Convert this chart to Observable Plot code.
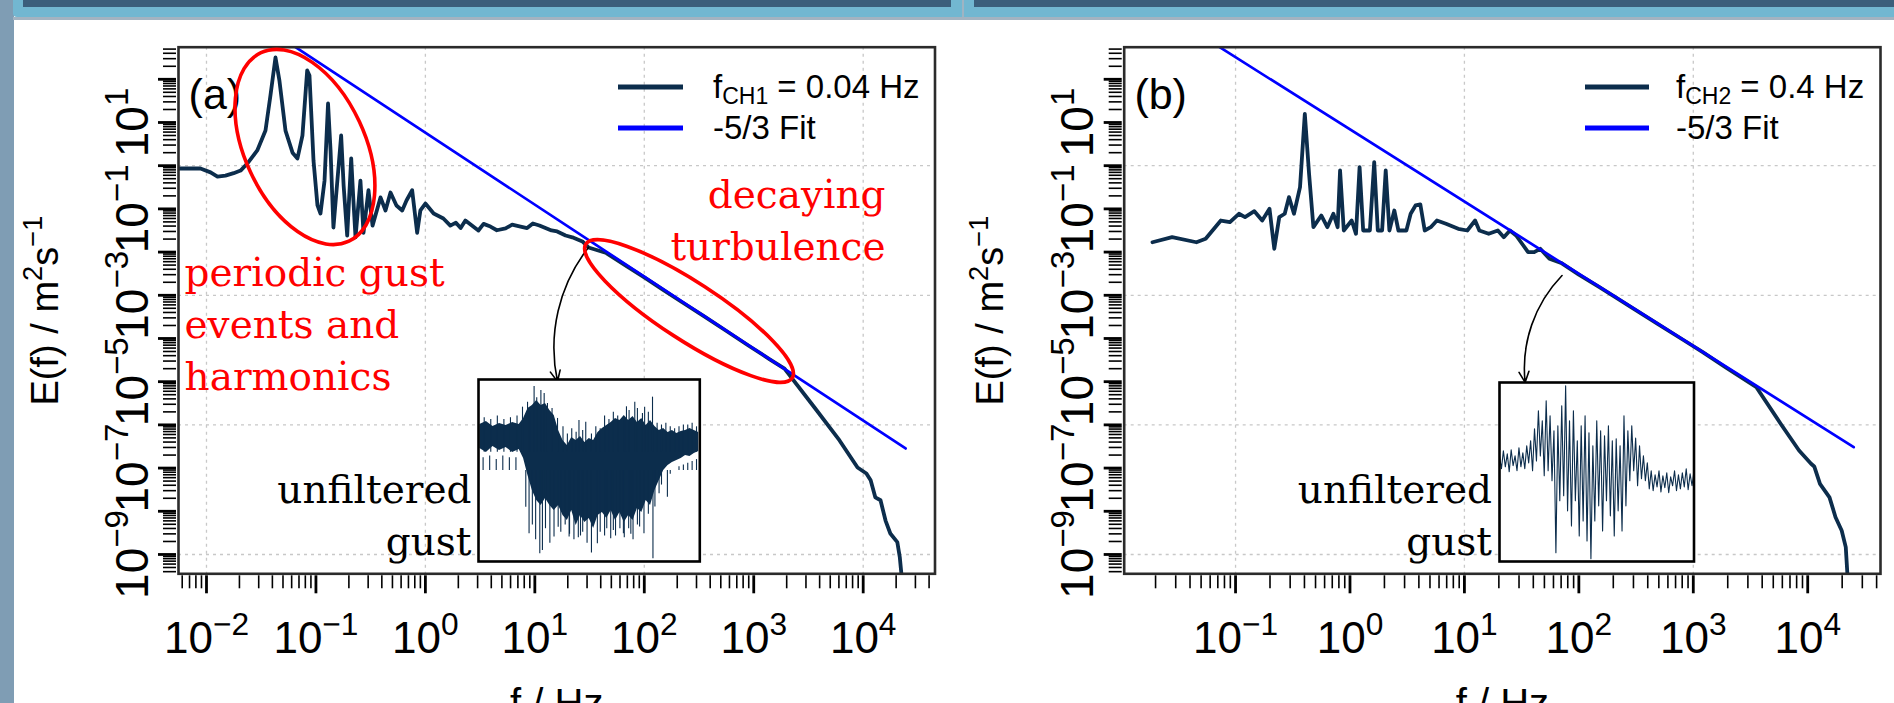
<!DOCTYPE html>
<html><head><meta charset="utf-8">
<script src="https://cdn.jsdelivr.net/npm/d3@7"></script>
<script src="https://cdn.jsdelivr.net/npm/@observablehq/plot@0.6"></script>
<style>
html,body{margin:0;padding:0;background:#fff;overflow:hidden;}
#root{position:relative;width:1894px;height:703px;overflow:hidden;background:#fff;font-family:"Liberation Sans",Arial,sans-serif;}
#root > *{position:absolute;}
</style></head><body><div id="root"></div>
<script>
// ---------------- DATA ----------------
// Panel (a): spectrum, f_CH1 = 0.04 Hz
const specA_f = [0.0055,0.0088,0.0109,0.0126,0.0149,0.0177,0.0205,0.0236,0.0291,0.0346,0.0384,0.0427,0.0464,0.0527,0.0611,0.0678,0.0753,0.0832,0.0873,0.095,0.1033,0.110,0.1198,0.129,0.136,0.1445,0.157,0.170,0.179,0.193,0.210,0.220,0.230,0.255,0.272,0.302,0.329,0.389,0.432,0.48,0.544,0.614,0.672,0.757,0.841,0.90,1.0,1.19,1.46,1.69,1.9,2.1,2.32,3.05,3.4,3.93,4.5,5.4,6.2,7.4,8.5,9.6,11.0,12.5,14.2,16,19.1,22,27.2,30.9,45,70,100,150,220,350,550,900,1400,1910,3590,6080,8880,10700,11700,12900,14400,16000,17700,20500,21600,22400];
const specA_E = [0.86,0.86,0.70,0.56,0.59,0.67,0.77,1.12,2.25,6.5,42,320,93,6.5,2.0,1.47,5.0,160,122,1.32,0.12,0.078,0.45,27.5,2.25,0.037,0.45,5.0,0.35,0.024,1.47,0.156,0.022,0.45,0.028,0.27,0.041,0.184,0.092,0.24,0.12,0.092,0.156,0.27,0.028,0.092,0.133,0.078,0.060,0.041,0.048,0.036,0.0538,0.0316,0.045,0.039,0.032,0.0352,0.043,0.039,0.036,0.046,0.0413,0.036,0.0316,0.030,0.0242,0.022,0.0176,0.0128,0.0095,0.0046,0.0026,0.00132,0.00070,0.00033,0.000155,6.8e-5,3.3e-5,2.0e-5,2.53e-6,4.36e-7,1.03e-7,7.5e-8,5.2e-8,2.1e-8,1.8e-8,6.1e-9,3.06e-9,1.93e-9,8.6e-10,3.3e-10];
const fitA_f = [0.065, 24400];
const fitA_E = [553, 2.84e-7];

// Panel (b): spectrum, f_CH2 = 0.4 Hz
const specB_f = [0.0188,0.0279,0.0455,0.0548,0.0744,0.0893,0.107,0.121,0.146,0.171,0.198,0.218,0.241,0.269,0.293,0.324,0.366,0.403,0.439,0.479,0.561,0.634,0.716,0.780,0.819,0.883,1.035,1.128,1.213,1.304,1.492,1.628,1.750,1.909,2.052,2.21,2.44,2.65,3.11,3.39,3.74,4.12,4.50,5.08,5.75,6.90,8.83,10.6,12.4,13.5,16.3,19.6,22.1,25.0,28.3,31.9,36.0,40.7,46.0,55.3,70,100,150,200,300,500,800,1200,1936,3560,5800,8400,10700,11400,12800,15500,17500,19800,21500,22300];
const specB_E = [0.0169,0.0221,0.0169,0.0203,0.0538,0.0492,0.0771,0.0643,0.0885,0.0538,0.1005,0.0119,0.0643,0.0771,0.187,0.0771,0.318,15.9,0.649,0.0377,0.0703,0.0377,0.0771,0.0377,0.774,0.0316,0.0538,0.0265,0.923,0.0316,0.0316,1.205,0.0316,0.0316,0.774,0.0316,0.0918,0.0316,0.0316,0.0771,0.12,0.1265,0.0316,0.0377,0.0538,0.0452,0.0346,0.0316,0.0538,0.0316,0.0265,0.0316,0.0221,0.0316,0.0242,0.0156,0.00995,0.00995,0.0119,0.0070,0.0056,0.0030,0.00156,0.00097,0.00049,0.00021,9.6e-5,4.9e-5,2.1e-5,7.46e-6,1.06e-6,2.55e-7,1.26e-7,1.09e-7,4.3e-8,2.1e-8,7.3e-9,3.6e-9,1.48e-9,3.0e-10];
const fitB_f = [0.0726, 25230];
const fitB_E = [553, 3.05e-7];

// Axes
const xLabelsA = [1e-2, 1e-1, 1e0, 1e1, 1e2, 1e3, 1e4];
const xLabelsB = [1e-1, 1e0, 1e1, 1e2, 1e3, 1e4];
const yLabels = [1e1, 1e-1, 1e-3, 1e-5, 1e-7, 1e-9];
const xGridA = [1e-2, 1e0, 1e2, 1e4];
const xGridB = [1e-1, 1e1, 1e3];
const yGrid = [1e-9, 1e-6, 1e-3, 1e0];
const xTitle = "f / Hz";
const yTitle = ["E(f) / m", "2", "s", "\u22121"];

// Legends
const legendA = [["f", "CH1", " = 0.04 Hz"], ["-5/3 Fit", "", ""]];
const legendB = [["f", "CH2", " = 0.4 Hz"], ["-5/3 Fit", "", ""]];

// Annotations (data coordinates f, E)
const notesA = [
  {f: 0.0063, E: 6.25e-6, text: "periodic gust\nevents and\nharmonics"},
  {f: 16000, E: 0.0064, text: "decaying\nturbulence"}
];
const gustA = [{f: 2.64, E: 9.5e-10, text: "unfiltered\ngust"}];
const gustB = [{f: 17.4, E: 9.5e-10, text: "unfiltered\ngust"}];
const tagA = [{f: 0.00686, E: 20, text: "(a)"}];
const tagB = [{f: 0.01306, E: 20, text: "(b)"}];
const ringsA = [{f: 0.0802, E: 2.64}, {f: 259, E: 4.2e-4}];
const arrowA = [{f1: 30.9, E1: 0.0128, f2: 16.1, E2: 1.01e-5}];
const arrowB = [{f1: 71.3, E1: 0.00287, f2: 33.9, E2: 9.6e-6}];

// Inset (a): unfiltered gust signal, envelopes and spikes (arbitrary units 0-100)
const insetA_t = [0,3,6,9,12,15,18,20,22,24,26,28,30,32,34,36,38,40,42,44,46,48,50,52,54,56,58,60,62,64,66,68,70,72,74,76,78,80,82,84,86,88,90,92,94,96,98,100];
const insetA_hi = [75.3,76.9,74.2,75.8,74.7,76.4,75.3,78.6,84.1,85.7,88.5,85.7,86.8,83.0,80.2,72.0,66.5,63.7,68.1,66.5,68.7,65.4,67.6,66.5,70.9,73.1,74.7,76.4,78.6,77.5,80.2,77.5,79.7,76.4,78.6,74.7,77.5,74.2,72.0,73.1,70.9,72.0,70.3,71.4,72.0,73.1,72.0,70.9];
const insetA_lo = [62.1,59.9,63.2,61.0,62.6,59.9,61.5,56.6,47.3,39.0,33.5,30.8,34.6,30.8,28.0,30.8,25.3,22.5,28.0,19.8,25.3,21.4,23.6,18.1,25.3,26.9,23.6,28.0,22.5,26.9,21.4,25.3,22.5,29.1,26.9,33.5,30.8,39.0,44.5,50.0,52.7,54.4,55.5,56.6,58.2,57.7,59.3,60.4];
const spikeUpA_t = [24.8,27.9,29.4,21.8,19.5,30.9,35.5,45.3,48.4,65.9,68.2,70.8,74.3,75.3,78.9,23,26,33,38,42,47,53,57,61,63,67,72,77,
  2,5,8,11,14,17,81,83,85,87,89,91,93,95,97,99,40,44,51,55,59];
const spikeUpA_v = [96.2,94.0,92.3,87.5,84.8,86.8,78.6,77.5,76.5,77.5,83.0,87.5,81.3,84.8,90.3,82,90,84,74,73,72,74,80,82,80,85,84,82,
  79,78,80,78,79,80,76,75,76,74,73,74,75,75,76,74,70,71,70,73,78];
const spikeDnA_t = [21.0,22.5,27.4,28.6,33.9,35.8,40.8,51.0,53.7,59.8,65.6,75.0,79.1,81.9,85.7,24,25.5,30,32,37,39,43,46,49,55,58,62,64,68,70,72,77,80,
  1.5,4.5,7.5,10.5,13.5,16.5,83,87,89,91,93,95,97,99,41,45,47,57,61,66,69,73];
const spikeDnA_v = [29.8,15.2,4.2,6.0,13.4,18.8,13.4,4.6,9.7,12.5,15.2,15.2,1.5,37.2,35.3,20,12,18,10,16,20,12,14,10,16,18,14,18,18,12,20,26,30,
  57,58,56,58,57,57,42,48,50,52,53,54,55,56,15,13,16,14,17,13,15,19];

// Inset (b): unfiltered gust signal (arbitrary units 0-100), one value per time step
const insetB_v = [59.0,51.8,61.8,52.9,60.2,50.1,62.4,53.5,59.0,50.7,63.5,52.9,60.7,51.8,64.6,55.1,67.4,50.7,
  74.1,56.2,84.2,59.0,78.6,47.9,89.8,50.7,81.4,45.1,73.0,
  4.9,75.8,33.9,87.0,36.7,98.2,28.3,78.6,19.9,84.2,33.9,67.4,14.3,75.8,22.7,81.4,11.5,71.9,1.5,64.6,22.7,78.6,31.1,73.0,17.1,70.2,33.9,75.8,25.5,67.4,14.3,68.5,28.3,64.6,17.1,81.4,31.1,73.0,45.1,75.8,50.7,68.9,
  42.3,64.6,46.2,59.0,45.1,55.1,40.6,50.7,
  39.5,48.4,41.7,50.7,38.9,47.9,41.2,49.6,38.4,47.3,42.3,50.7,39.5,48.4,40.6,49.6,41.7,51.8,40.1,49.0,42.3,50.7];

// ---------------- STYLE ----------------
const NAVY = "#0c2d4c";
const BLUE = "#0000ff";
const RED = "#ff0000";
const SANS = "Liberation Sans, Arial, sans-serif";
const SERIF = "DejaVu Serif, serif";
const yDomain = [3.57e-10, 553];
const SVGNS = "http://www.w3.org/2000/svg";

function decades(lo, hi) { const o = []; for (let e = Math.ceil(Math.log10(lo)); e <= Math.floor(Math.log10(hi)); e++) o.push(10 ** e); return o; }
function minors(lo, hi) { const o = []; for (let e = Math.floor(Math.log10(lo)); e <= Math.ceil(Math.log10(hi)); e++) for (let m = 2; m <= 9; m++) { const v = m * 10 ** e; if (v >= lo && v <= hi) o.push(v); } return o; }
const expText = d => "10|" + String(Math.round(Math.log10(d))).replace("-", "\u2212");

function fontSizeOf(t, dflt) {
  let n = t;
  while (n && n.getAttribute) { const fs = n.getAttribute("font-size"); if (fs) return parseFloat(fs); n = n.parentNode; }
  return dflt;
}
function supify(svg) {
  svg.querySelectorAll("text").forEach(t => {
    const s = t.textContent;
    if (s.indexOf("|") < 0) return;
    const fs = fontSizeOf(t, 44);
    const parts = s.split("|");
    while (t.firstChild) t.removeChild(t.firstChild);
    const a = document.createElementNS(SVGNS, "tspan"); a.textContent = parts[0]; t.appendChild(a);
    const b = document.createElementNS(SVGNS, "tspan"); b.textContent = parts[1];
    b.setAttribute("dy", -0.42 * fs); b.setAttribute("font-size", 0.72 * fs); t.appendChild(b);
  });
}
function titleify(svg) {
  svg.querySelectorAll("text").forEach(t => {
    if (t.textContent !== "\u00a7") return;
    const fs = fontSizeOf(t, 40);
    while (t.firstChild) t.removeChild(t.firstChild);
    const up = 0.40 * fs;
    yTitle.forEach((s, i) => {
      const ts = document.createElementNS(SVGNS, "tspan"); ts.textContent = s;
      if (i % 2 === 1) { ts.setAttribute("dy", -up); ts.setAttribute("font-size", 0.72 * fs); }
      else if (i > 0) { ts.setAttribute("dy", up); }
      t.appendChild(ts);
    });
  });
}

function ellipses(data, sizes) {
  return (index, scales) => {
    const g = d3.create("svg:g");
    data.forEach((d, i) => {
      const s = sizes[i];
      g.append("ellipse")
        .attr("transform", `translate(${scales.x(d.f)},${scales.y(d.E)}) rotate(${s.angle})`)
        .attr("rx", s.rx).attr("ry", s.ry)
        .attr("fill", "none").attr("stroke", RED).attr("stroke-width", 3.6);
    });
    return g.node();
  };
}

function panel(cfg) {
  const spec = cfg.f.map((f, i) => ({f, E: cfg.E[i]}));
  const fit = cfg.fitF.map((f, i) => ({f, E: cfg.fitE[i]}));
  const [xlo, xhi] = cfg.xDomain;
  const marks = [
    Plot.gridX(cfg.xGrid, {stroke: "#c8c8c8", strokeOpacity: 1, strokeWidth: 1.3, strokeDasharray: "3,4"}),
    Plot.gridY(yGrid, {stroke: "#c8c8c8", strokeOpacity: 1, strokeWidth: 1.3, strokeDasharray: "3,4"}),
    Plot.axisX(minors(xlo, xhi), {anchor: "bottom", tickSize: 13, tickFormat: () => "", strokeWidth: 1.6, dy: 2, label: null}),
    Plot.axisX(decades(xlo, xhi), {anchor: "bottom", tickSize: 18, tickFormat: () => "", strokeWidth: 2.8, dy: 2, label: null}),
    Plot.axisY(minors(yDomain[0], yDomain[1]), {anchor: "left", tickSize: 13, tickFormat: () => "", strokeWidth: 1.6, dx: -2, label: null}),
    Plot.axisY(decades(yDomain[0], yDomain[1]), {anchor: "left", tickSize: 18, tickFormat: () => "", strokeWidth: 2.8, dx: -2, label: null}),
    Plot.text(cfg.xLabels, {x: d => d, text: expText, frameAnchor: "bottom", dy: 48, lineAnchor: "top", fontSize: 44, fontFamily: SANS, fill: "black"}),
    Plot.text(yLabels, {y: d => d, text: expText, frameAnchor: "left", dx: -31, rotate: -90, textAnchor: "middle", lineAnchor: "bottom", fontSize: 46, fontFamily: SANS, fill: "black"}),
    Plot.text([xTitle], {text: d => d, frameAnchor: "bottom", dy: 143, lineAnchor: "bottom", fontSize: 40, fontFamily: SANS, fill: "black"}),
    Plot.text(["\u00a7"], {text: d => d, frameAnchor: "left", dx: -121, rotate: -90, textAnchor: "middle", lineAnchor: "bottom", fontSize: 38, fontFamily: SANS, fill: "black"}),
    Plot.line(spec, {x: "f", y: "E", stroke: NAVY, strokeWidth: 3.8, strokeLinejoin: "round", clip: true}),
    Plot.line(fit, {x: "f", y: "E", stroke: BLUE, strokeWidth: 2.7, clip: true}),
    Plot.frame({stroke: "#2b2b2b", strokeWidth: 2.6}),
    Plot.arrow(cfg.arrow, {x1: "f1", y1: "E1", x2: "f2", y2: "E2", bend: -25, stroke: "black", strokeWidth: 1.6, headLength: 11, headAngle: 50}),
    Plot.text(cfg.tag, {x: "f", y: "E", text: "text", textAnchor: "start", lineAnchor: "bottom", fontSize: 43, fontFamily: SANS, fill: "black"}),
    Plot.text(cfg.gust, {x: "f", y: "E", text: "text", textAnchor: "end", lineAnchor: "bottom", lineHeight: 1.333, fontSize: 39, fontFamily: SERIF, fill: "black"})
  ];
  if (cfg.notes) {
    marks.push(Plot.text(cfg.notes.slice(0, 1), {x: "f", y: "E", text: "text", textAnchor: "start", lineAnchor: "bottom", lineHeight: 1.346, fontSize: 39, fontFamily: SERIF, fill: RED}));
    marks.push(Plot.text(cfg.notes.slice(1), {x: "f", y: "E", text: "text", textAnchor: "end", lineAnchor: "bottom", lineHeight: 1.346, fontSize: 39, fontFamily: SERIF, fill: RED}));
  }
  if (cfg.rings) marks.push(ellipses(cfg.rings, cfg.ringSizes));
  const svg = Plot.plot({
    width: cfg.width, height: 703,
    marginLeft: cfg.ml, marginRight: cfg.mr, marginTop: 46.7, marginBottom: 129.7,
    x: {type: "log", domain: cfg.xDomain, axis: null},
    y: {type: "log", domain: yDomain, axis: null},
    style: {background: "transparent", overflow: "visible", fontFamily: SANS, color: "black"},
    marks
  });
  supify(svg);
  titleify(svg);
  svg.style.left = cfg.left + "px"; svg.style.top = "0px";
  return svg;
}

const root = document.getElementById("root");

// background poster decorations
function deco(style) { const d = document.createElement("div"); Object.assign(d.style, {position: "absolute"}, style); root.appendChild(d); }
deco({left: "0px", top: "0px", width: "14px", height: "703px", background: "#7f9db4"});
deco({left: "13px", top: "0px", width: "1881px", height: "17px", background: "#72b7d1", borderBottomLeftRadius: "4px"});
deco({left: "13px", top: "17px", width: "1881px", height: "3px", background: "#a3b3c1"});
deco({left: "23px", top: "0px", width: "928px", height: "7px", background: "#3b5e7b"});
deco({left: "974px", top: "0px", width: "920px", height: "7px", background: "#3b5e7b"});
deco({left: "962px", top: "0px", width: "2px", height: "17px", background: "#9fb4c3"});

root.appendChild(panel({
  f: specA_f, E: specA_E, fitF: fitA_f, fitE: fitA_E,
  xDomain: [0.00555, 45300], xLabels: xLabelsA, xGrid: xGridA,
  width: 950, left: 0, ml: 178, mr: 15.5,
  arrow: arrowA, tag: tagA, gust: gustA, notes: notesA,
  rings: ringsA, ringSizes: [{rx: 60, ry: 104, angle: -25}, {rx: 123, ry: 29, angle: 33}]
}));
root.appendChild(panel({
  f: specB_f, E: specB_E, fitF: fitB_f, fitE: fitB_E,
  xDomain: [0.01064, 43250], xLabels: xLabelsB, xGrid: xGridB,
  width: 944, left: 950, ml: 173.7, mr: 14,
  arrow: arrowB, tag: tagB, gust: gustB
}));

// insets
function insetA() {
  const band = insetA_t.map((t, i) => ({t, hi: insetA_hi[i], lo: insetA_lo[i]}));
  const up = spikeUpA_t.map((t, i) => ({t, v: spikeUpA_v[i]}));
  const dn = spikeDnA_t.map((t, i) => ({t, v: spikeDnA_v[i]}));
  const svg = Plot.plot({
    width: 225.3, height: 186, margin: 2,
    x: {domain: [-0.6, 100.5], axis: null}, y: {domain: [0, 100], axis: null},
    style: {background: "transparent", overflow: "visible"},
    marks: [
      Plot.frame({fill: "white"}),
      Plot.areaY(band, {x: "t", y1: "lo", y2: "hi", fill: NAVY}),
      Plot.ruleX(up, {x: "t", y1: 60, y2: "v", stroke: NAVY, strokeWidth: 1.1}),
      Plot.ruleX(dn, {x: "t", y1: 50, y2: "v", stroke: NAVY, strokeWidth: 1.1}),
      Plot.frame({stroke: "black", strokeWidth: 2.6})
    ]
  });
  svg.style.left = "475.7px"; svg.style.top = "377px";
  return svg;
}
function insetB() {
  const sig = insetB_v.map((v, t) => ({t, v}));
  const svg = Plot.plot({
    width: 198.5, height: 183, margin: 2,
    x: {domain: [0, 100], axis: null}, y: {domain: [0, 100], axis: null},
    style: {background: "transparent", overflow: "visible"},
    marks: [
      Plot.frame({fill: "white"}),
      Plot.line(sig, {x: "t", y: "v", stroke: NAVY, strokeWidth: 1.1}),
      Plot.frame({stroke: "black", strokeWidth: 2.6})
    ]
  });
  svg.style.left = "1496.5px"; svg.style.top = "379.7px";
  return svg;
}
root.appendChild(insetA());
root.appendChild(insetB());

// legends
const lg = d3.select(root).append("svg").attr("width", 1894).attr("height", 703).style("left", "0px").style("top", "0px").style("overflow", "visible");
function legend(items, x0, x1, tx) {
  const colors = [NAVY, BLUE];
  items.forEach((it, i) => {
    const y = 87 + i * 41;
    lg.append("line").attr("x1", x0).attr("x2", x1).attr("y1", y).attr("y2", y).attr("stroke", colors[i]).attr("stroke-width", 5);
    const t = lg.append("text").attr("x", tx).attr("y", y + 11).attr("font-family", SANS).attr("font-size", 33).attr("fill", "black");
    t.append("tspan").text(it[0]);
    if (it[1]) { t.append("tspan").attr("font-size", 23).attr("dy", 6).text(it[1]); t.append("tspan").attr("dy", -6).text(it[2]); }
  });
}
legend(legendA, 618, 683, 713);
legend(legendB, 1585, 1649, 1676);
</script></body></html>
